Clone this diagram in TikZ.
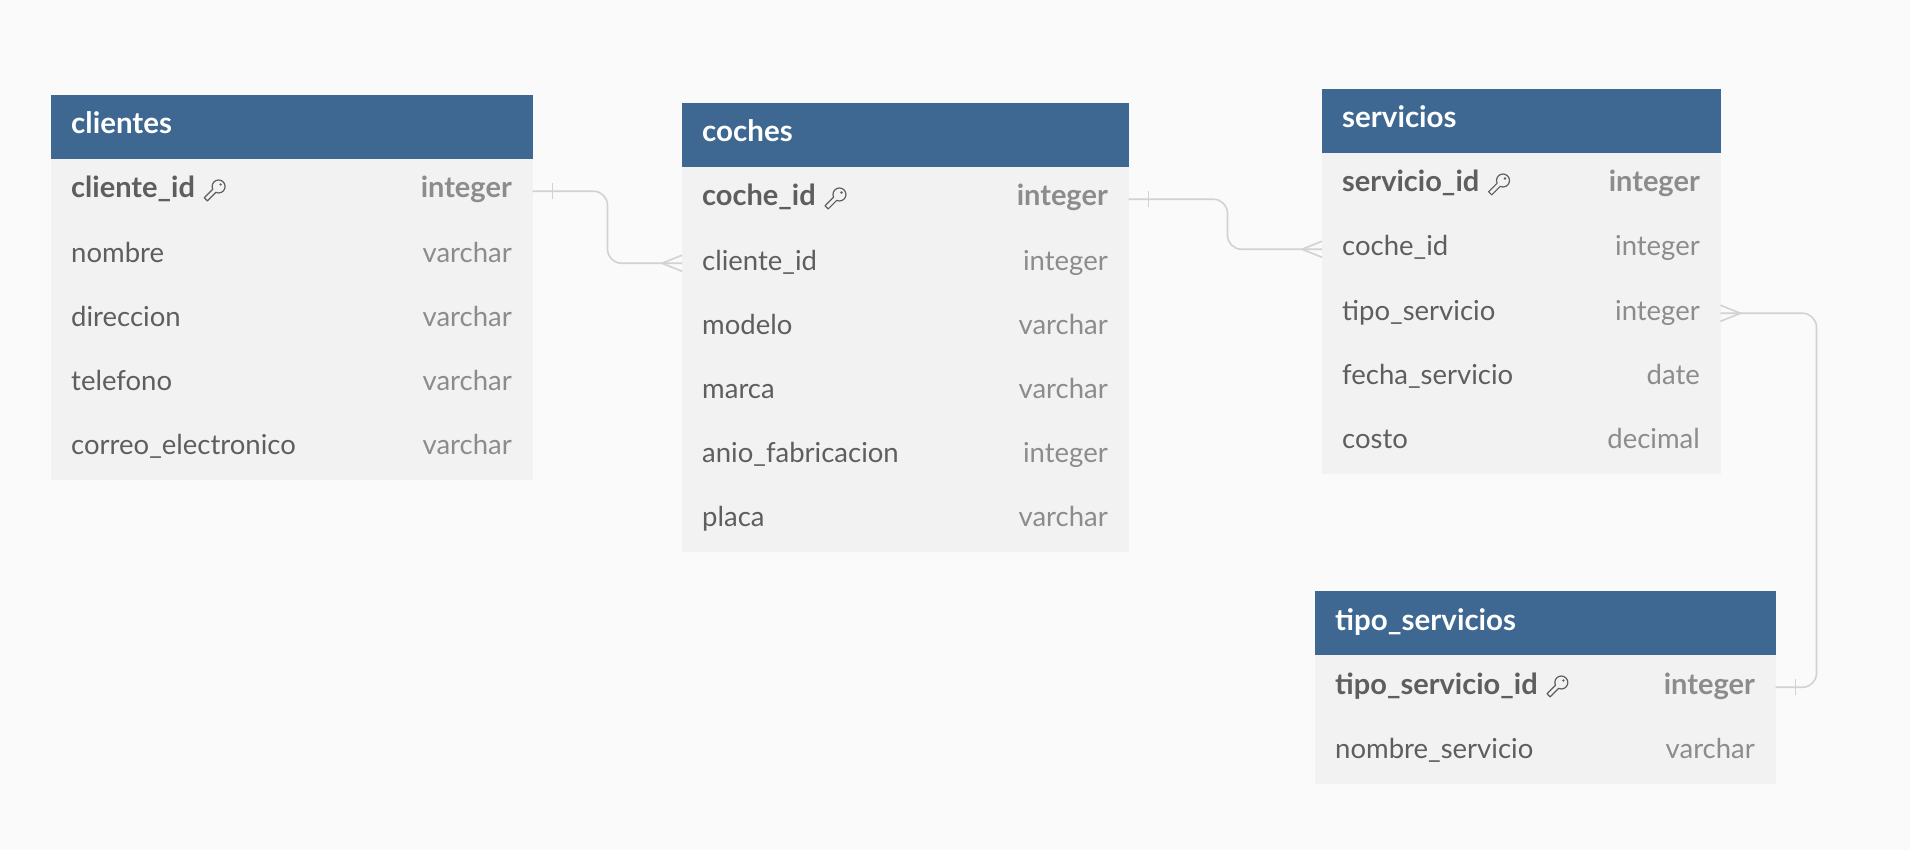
\documentclass[tikz,border=0pt]{standalone}
\usepackage{fontspec}
\setmainfont{Lato}
\definecolor{hdrblue}{HTML}{3E6891}
\definecolor{bodygray}{HTML}{F2F2F2}
\definecolor{bggray}{HTML}{FAFAFA}
\definecolor{namecol}{HTML}{5E5E5E}
\definecolor{typecol}{HTML}{8C8C8C}
\definecolor{conncol}{HTML}{D2D2D2}
\newcommand\fs{\fontsize{27.5}{33}\selectfont}
\newcommand\fb{\fontsize{29}{34}\selectfont\bfseries}
\newcommand\ft{\fontsize{29.5}{35}\selectfont\bfseries}
\tikzset{
  hdr/.style={fill=hdrblue, draw=hdrblue, line width=0.5pt, anchor=north west, inner sep=0pt, minimum height=64pt},
  body/.style={fill=bodygray, draw=bodygray, line width=0.5pt, anchor=north west, inner sep=0pt, minimum height=64pt},
  ttl/.style={anchor=base west, inner sep=0pt, text=white, font=\ft},
  fname/.style={anchor=base west, inner sep=0pt, text=namecol, font=\fs},
  pkname/.style={anchor=base west, inner sep=0pt, text=namecol, font=\fb},
  ftype/.style={anchor=base east, inner sep=0pt, text=typecol, font=\fs},
  pktype/.style={anchor=base east, inner sep=0pt, text=typecol, font=\fb},
  conn/.style={draw=conncol, line width=1.6pt, rounded corners=14pt},
  crow/.style={draw=conncol, line width=1.6pt},
  keyline/.style={draw=namecol, line width=1.2pt, line join=round},
}
\newcommand\keyicon[1]{%
  \draw[keyline, shift={(#1.base east)}] (23.5,-11.5) ++(155:6.5)
     arc[start angle=155, end angle=475, radius=6.5]
     -- ++(-8.5,8.5) -- ++(-3.15,-3.15) -- cycle;
  \fill[namecol, shift={(#1.base east)}] (25.5,-13.5) circle (1.3);
}
\newcommand\ertable[6]{%
  \node[hdr, minimum width=#4pt] (#1-h) at (#2,#3) {};
  \node[ttl] (#1-title) at ({#2+20},{#3+39}) {#5};
  \foreach \fn/\fty [count=\i] in {#6} {
    \node[body, minimum width=#4pt] (#1-r\i) at (#2,{#3+64*\i}) {};
    \ifnum\i=1
      \node[pkname] (#1-n\i) at ({#2+20},{#3+64*\i+39}) {\fn};
      \node[pktype] (#1-t\i) at ({#2+#4-20},{#3+64*\i+39}) {\fty};
      \keyicon{#1-n\i}
    \else
      \node[fname] (#1-n\i) at ({#2+20},{#3+64*\i+39}) {\fn};
      \node[ftype] (#1-t\i) at ({#2+#4-20},{#3+64*\i+39}) {\fty};
    \fi
  }
}
\begin{document}
\begin{tikzpicture}[x=1pt,y=-1pt]
\fill[bggray] (0,0) rectangle (1910,850);
\useasboundingbox (0,0) rectangle (1910,850);

\ertable{cl}{51}{95}{481}{clientes}{cliente\_id/integer, nombre/varchar, direccion/varchar, telefono/varchar, correo\_electronico/varchar}
\ertable{co}{682}{103}{446}{coches}{coche\_id/integer, cliente\_id/integer, modelo/varchar, marca/varchar, anio\_fabricacion/integer, placa/varchar}
\ertable{sv}{1322}{89}{398}{servicios}{servicio\_id/integer, coche\_id/integer, tipo\_servicio/integer, fecha\_servicio/date, costo/decimal}
\ertable{ts}{1315}{591}{460}{tipo\_servicios}{tipo\_servicio\_id/integer, nombre\_servicio/varchar}

% clientes.cliente_id -> coches.cliente_id
\draw[conn] (cl-r1.east) -- ++(75,0) |- (co-r2.west);
\draw[crow] (cl-r1.east) ++(20,-8) -- ++(0,16);
\draw[crow] (co-r2.west) ++(-20,0) coordinate (c1) -- ++(20,-8) (c1) -- ++(20,8);

% coches.coche_id -> servicios.coche_id
\draw[conn] (co-r1.east) -- ++(99,0) |- (sv-r2.west);
\draw[crow] (co-r1.east) ++(20,-8) -- ++(0,16);
\draw[crow] (sv-r2.west) ++(-20,0) coordinate (c2) -- ++(20,-8) (c2) -- ++(20,8);

% tipo_servicios.tipo_servicio_id -> servicios.tipo_servicio
\draw[conn] (ts-r1.east) -- ++(41,0) |- (sv-r3.east);
\draw[crow] (ts-r1.east) ++(20,-8) -- ++(0,16);
\draw[crow] (sv-r3.east) ++(20,0) coordinate (c3) -- ++(-20,-8) (c3) -- ++(-20,8);
\end{tikzpicture}
\end{document}
